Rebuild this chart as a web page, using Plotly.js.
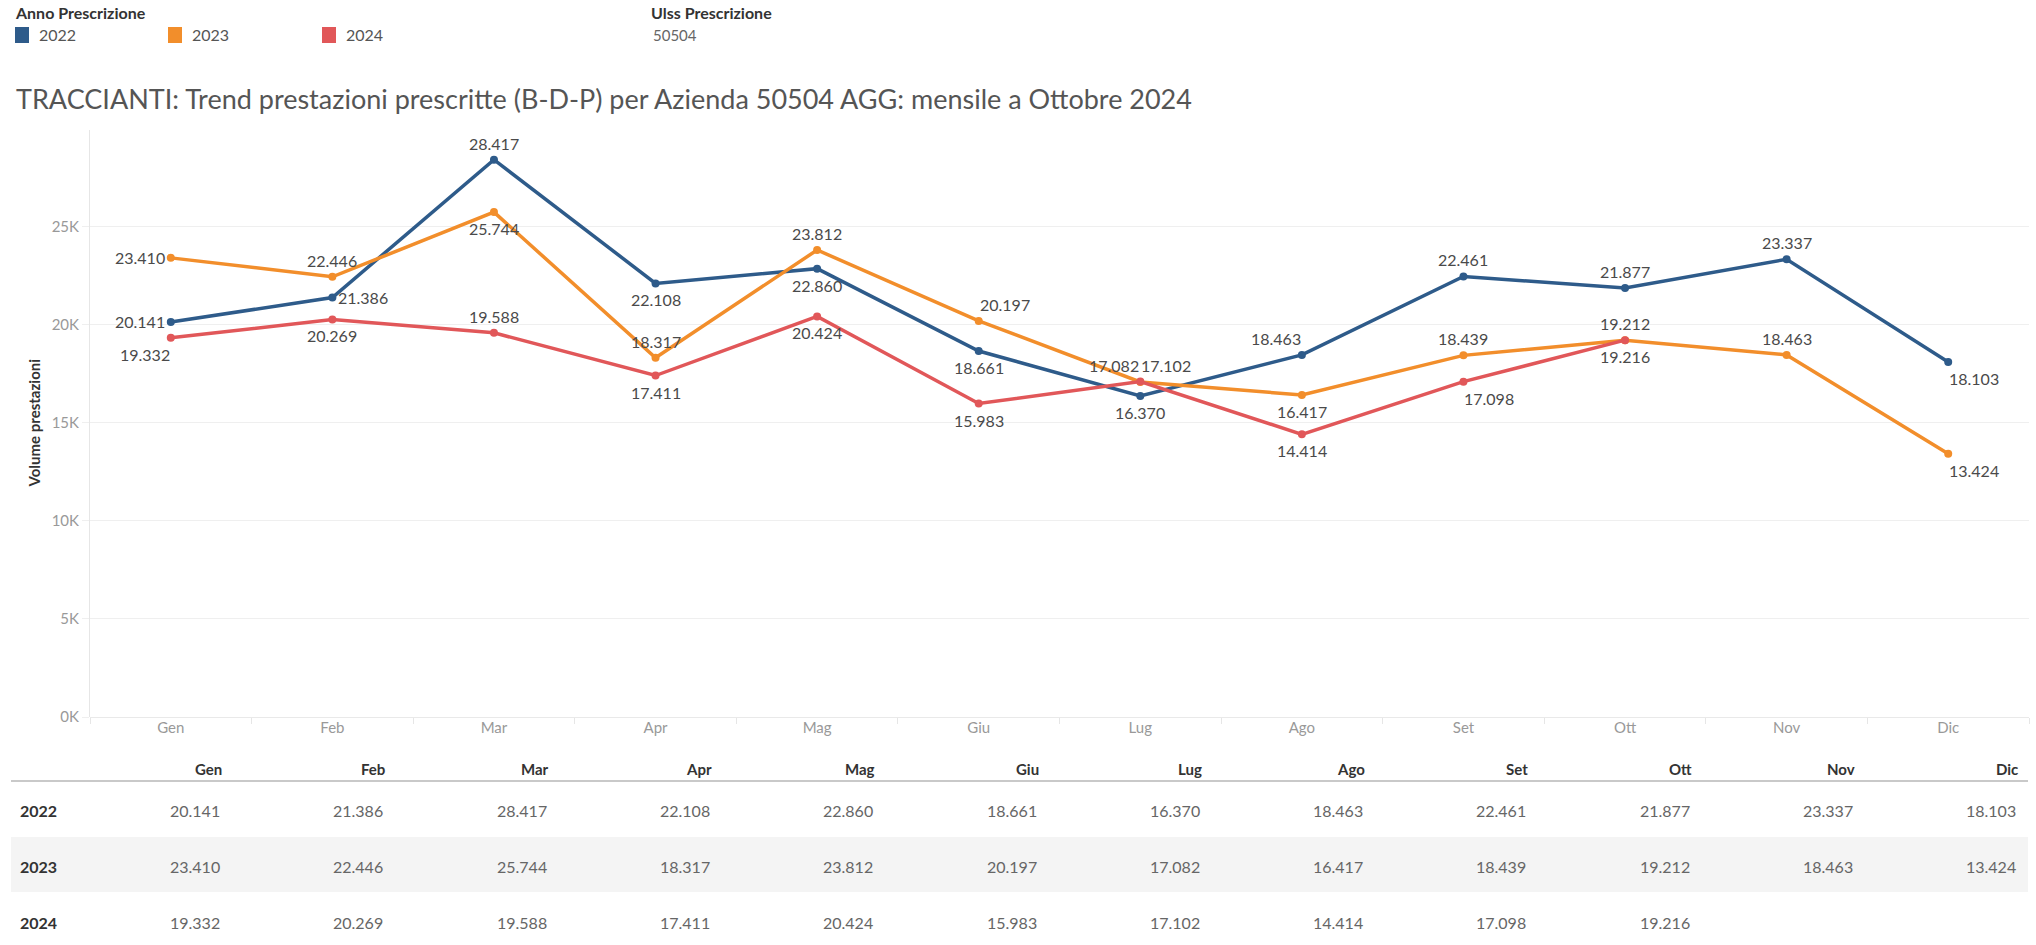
<!DOCTYPE html>
<html>
<head>
<meta charset="utf-8">
<script src="https://cdn.plot.ly/plotly-3.0.1.min.js"></script>
<style>
html,body{margin:0;padding:0;background:#fff;}
#chart{width:2036px;height:945px;}
</style>
</head>
<body>
<div id="chart"></div>
<script>
// ---- DATA ----
const months = ["Gen","Feb","Mar","Apr","Mag","Giu","Lug","Ago","Set","Ott","Nov","Dic"];
const years = ["2022","2023","2024"];
const v2022 = [20141, 21386, 28417, 22108, 22860, 18661, 16370, 18463, 22461, 21877, 23337, 18103];
const v2023 = [23410, 22446, 25744, 18317, 23812, 20197, 17082, 16417, 18439, 19212, 18463, 13424];
const v2024 = [19332, 20269, 19588, 17411, 20424, 15983, 17102, 14414, 17098, 19216, null, null];
const yTickVals = [0, 5000, 10000, 15000, 20000, 25000];
const yTickText = ["0K","5K","10K","15K","20K","25K"];
const title = "TRACCIANTI: Trend prestazioni prescritte (B-D-P) per Azienda 50504 AGG: mensile a Ottobre 2024";
const legendTitle = "Anno Prescrizione";
const filterTitle = "Ulss Prescrizione";
const filterValue = "50504";
const yTitle = "Volume prestazioni";

// ---- STYLE ----
const colors = ["#2e5b8a", "#f28e2b", "#e15759"];
const FONT = "Lato, 'Open Sans', sans-serif";
const pos2022 = ["middle left","middle right","top center","bottom center","bottom center","bottom center","bottom center","top left","top center","top center","top center","bottom right"];
const pos2023 = ["middle left","top center","bottom center","top center","top center","top right","top left","bottom center","top center","top center","top center","bottom right"];
const pos2024 = ["bottom left","bottom center","top center","bottom center","bottom center","bottom center","top right","bottom center","bottom right","bottom center","bottom center","bottom center"];

function fmt(v){
  if (v === null || v === undefined) return "";
  const k = Math.floor(v/1000), r = v % 1000;
  return k + "." + String(r).padStart(3,"0");
}

const W = 2036, H = 945;
const L = 90, R = 2029, T = 130, B = 717;
const px2x = p => (p - L) / (R - L);
const px2y = p => (B - p) / (B - T);

const series = [v2022, v2023, v2024];
const positions = [pos2022, pos2023, pos2024];
const traces = series.map((vals, i) => ({
  type: "scatter",
  mode: "lines+markers",
  x: months,
  y: vals,
  name: years[i],
  line: {color: colors[i], width: 3.5},
  marker: {color: colors[i], size: 8},
  cliponaxis: false,
  hoverinfo: "x+y+name"
}));

const annotations = [];
const shapes = [];

// data labels (anchored to data coordinates)
series.forEach((vals, s) => {
  vals.forEach((v, i) => {
    if (v === null) return;
    const p = positions[s][i];
    const [vp, hp] = p.split(" ");
    let yanchor = "middle", yshift = 0, xanchor = "center", xshift = 0;
    if (vp === "top") { yanchor = "bottom"; yshift = 5; }
    if (vp === "bottom") { yanchor = "top"; yshift = -5; }
    if (hp === "left") { xanchor = "right"; xshift = vp === "middle" ? -4 : 1; }
    if (hp === "right") { xanchor = "left"; xshift = vp === "middle" ? 4 : -1; }
    annotations.push({xref:"x", yref:"y", x: months[i], y: v, text: fmt(v), showarrow:false,
      xanchor, yanchor, xshift, yshift, font:{family:FONT, size:16, color:"#4a4a4a"}});
  });
});

// y axis title
annotations.push({xref:"paper", yref:"paper", x: px2x(33), y: 0.5, text: "<b>"+yTitle+"</b>", showarrow:false,
  textangle:-90, xanchor:"center", yanchor:"middle", font:{family:FONT, size:15, color:"#333"}});

// legend
annotations.push({xref:"paper", yref:"paper", x: px2x(13), y: px2y(12), text: "<b>"+legendTitle+"</b>", showarrow:false,
  xanchor:"left", yanchor:"middle", font:{family:FONT, size:16, color:"#333"}});
const swX = [15, 168, 322];
years.forEach((yr, i) => {
  shapes.push({type:"rect", xref:"paper", yref:"paper", x0: px2x(swX[i]), x1: px2x(swX[i]+14),
    y0: px2y(43), y1: px2y(27), fillcolor: colors[i], line:{width:0}});
  annotations.push({xref:"paper", yref:"paper", x: px2x(swX[i]+22), y: px2y(35), text: yr, showarrow:false,
    xanchor:"left", yanchor:"middle", font:{family:FONT, size:16, color:"#555"}});
});
annotations.push({xref:"paper", yref:"paper", x: px2x(649), y: px2y(12), text: "<b>"+filterTitle+"</b>", showarrow:false,
  xanchor:"left", yanchor:"middle", font:{family:FONT, size:16, color:"#333"}});
annotations.push({xref:"paper", yref:"paper", x: px2x(651), y: px2y(35), text: filterValue, showarrow:false,
  xanchor:"left", yanchor:"middle", font:{family:FONT, size:15, color:"#666"}});

// table
const colRight = i => 224 + i * 163.3;
const headerY = 769, rowY = [810, 866, 922];
shapes.push({type:"rect", xref:"paper", yref:"paper", x0: px2x(11), x1: px2x(2028), y0: px2y(892), y1: px2y(837),
  fillcolor:"#f4f4f4", line:{width:0}, layer:"below"});
shapes.push({type:"line", xref:"paper", yref:"paper", x0: px2x(11), x1: px2x(2028), y0: px2y(781), y1: px2y(781),
  line:{color:"#c9c9c9", width:2}});
months.forEach((m, i) => {
  annotations.push({xref:"paper", yref:"paper", x: px2x(colRight(i)), y: px2y(headerY), text: "<b>"+m+"</b>", showarrow:false,
    xanchor:"right", yanchor:"middle", font:{family:FONT, size:15, color:"#333"}});
});
series.forEach((vals, r) => {
  annotations.push({xref:"paper", yref:"paper", x: px2x(18), y: px2y(rowY[r]), text: "<b>"+years[r]+"</b>", showarrow:false,
    xanchor:"left", yanchor:"middle", font:{family:FONT, size:16, color:"#333"}});
  vals.forEach((v, i) => {
    if (v === null) return;
    annotations.push({xref:"paper", yref:"paper", x: px2x(colRight(i) - 2), y: px2y(rowY[r]), text: fmt(v), showarrow:false,
      xanchor:"right", yanchor:"middle", font:{family:FONT, size:16, color:"#666"}});
  });
});

const layout = {
  width: W, height: H,
  margin: {l: L, r: W - R, t: T, b: H - B, pad: 0},
  paper_bgcolor: "#fff", plot_bgcolor: "#fff",
  showlegend: false,
  font: {family: FONT},
  title: {text: title, xref:"container", yref:"container", x: 16/W, y: 1 - 100/H, xanchor:"left", yanchor:"middle",
    font:{family:FONT, size:27, color:"#555"}},
  xaxis: {
    type:"category", range:[-0.5, 11.5], showgrid:false, zeroline:false,
    tickson:"boundaries", ticks:"outside", ticklen:6, tickcolor:"#e6e6e6", tickwidth:1,
    showline:false, tickfont:{family:FONT, size:15, color:"#999"}, fixedrange:true
  },
  yaxis: {
    range:[0, 29930], tickvals: yTickVals, ticktext: yTickText,
    showgrid:true, gridcolor:"#efefef", gridwidth:1, zeroline:true, zerolinecolor:"#e9e9e9", zerolinewidth:1,
    ticks:"outside", ticklen:7, tickcolor:"#efefef",
    showline:true, linecolor:"#e6e6e6", linewidth:1,
    tickfont:{family:FONT, size:15, color:"#999"}, fixedrange:true
  },
  annotations: annotations,
  shapes: shapes
};

Plotly.newPlot("chart", traces, layout, {displayModeBar:false, staticPlot:true});
</script>
</body>
</html>
